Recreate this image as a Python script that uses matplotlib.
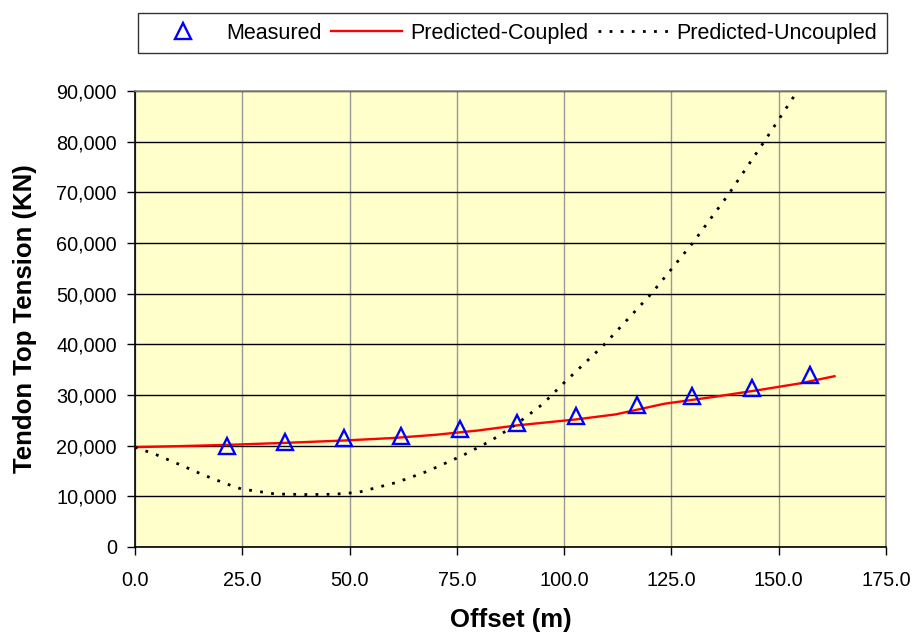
import matplotlib.pyplot as plt
from matplotlib.ticker import FuncFormatter, MultipleLocator

plt.rcParams["font.family"] = ["Liberation Sans", "DejaVu Sans"]

# Measured points
measured_x = [21.4, 34.9, 48.8, 62.1, 75.7, 89.0, 102.8, 116.9, 129.9, 143.8, 157.3]
measured_y = [20030, 20820, 21470, 22000, 23210, 24530, 25850, 27960, 29740, 31400, 33850]

# Predicted-Coupled curve
coupled_x = [0, 10, 21.4, 35, 48.8, 60, 70, 80, 89, 102.8, 112, 123.4, 134.7, 146, 155, 163]
coupled_y = [19700, 19900, 20150, 20550, 21020, 21500, 22140, 23000, 24000, 25180, 26170,
             28280, 29600, 31060, 32300, 33710]

# Predicted-Uncoupled curve
uncoupled_x = [0, 5, 10.1, 16, 21.4, 24.8, 32.7, 40, 46.3, 52.0, 61.0, 68, 76.3, 83, 89.0,
               95, 100.0, 109.1, 120.4, 129.9, 138.2, 146.6, 153.4, 154.2]
uncoupled_y = [19700, 18200, 16380, 14200, 12430, 11450, 10460, 10350, 10410, 10780, 12750,
               14900, 18040, 21000, 24310, 28200, 32430, 39730, 50070, 59940, 69470, 79990,
               88750, 90000]

fig = plt.figure(figsize=(9.17, 6.35), dpi=100)
ax = fig.add_axes([0.1472, 0.1386, 0.8190, 0.7181])
ax.set_facecolor("#FFFFCC")

ax.plot(measured_x, measured_y, linestyle="none", marker="^", markersize=11,
        markerfacecolor="none", markeredgecolor="#0000FF", markeredgewidth=1.7,
        label="Measured", zorder=4)
ax.plot(coupled_x, coupled_y, color="#FF0000", linewidth=1.7,
        label="Predicted-Coupled", zorder=3)
ax.plot(uncoupled_x, uncoupled_y, color="black", linewidth=2.0, linestyle=(0, (1, 3)),
        label="Predicted-Uncoupled", zorder=3)

ax.set_xlim(0, 175)
ax.set_ylim(0, 90000)
ax.xaxis.set_major_locator(MultipleLocator(25))
ax.yaxis.set_major_locator(MultipleLocator(10000))
ax.xaxis.set_major_formatter(FuncFormatter(lambda v, p: f"{v:.1f}"))
ax.yaxis.set_major_formatter(FuncFormatter(lambda v, p: f"{v:,.0f}"))

ax.grid(axis="y", color="black", linewidth=1.0)
ax.grid(axis="x", color="#999999", linewidth=1.0)
ax.set_axisbelow(True)

for side in ["top", "right"]:
    ax.spines[side].set_color("#888888")
    ax.spines[side].set_linewidth(1.2)
for side in ["left", "bottom"]:
    ax.spines[side].set_color("black")
    ax.spines[side].set_linewidth(1.2)

ax.tick_params(direction="out", length=6, width=1.0, labelsize=14.3, pad=7)
ax.tick_params(axis="x", pad=11)

ax.set_xlabel("Offset (m)", fontsize=18.5, fontweight="bold", labelpad=13)
ax.set_ylabel("Tendon Top Tension (KN)", fontsize=18.5, fontweight="bold", labelpad=14)

leg = fig.legend(loc="upper left", bbox_to_anchor=(138 / 917, 1 - 13 / 635),
                 borderaxespad=0, ncol=3, frameon=True, fancybox=False, fontsize=15.5,
                 handlelength=3.3, columnspacing=0.45, handletextpad=0.35,
                 borderpad=0.45, markerscale=1.0)
leg.get_frame().set_edgecolor("black")
leg.get_frame().set_linewidth(1.0)

fig.savefig("out.png", dpi=100)
